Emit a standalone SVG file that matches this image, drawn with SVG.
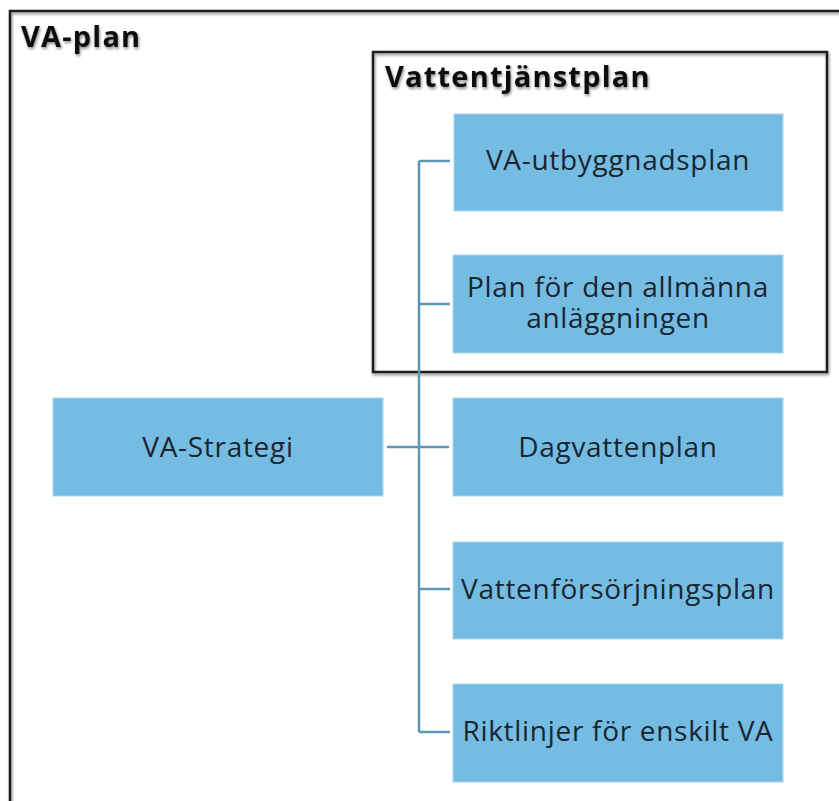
<svg xmlns="http://www.w3.org/2000/svg" width="839" height="801" viewBox="0 0 839 801">
<defs>
<filter id="sh" x="-5%" y="-5%" width="110%" height="120%">
<feGaussianBlur in="SourceAlpha" stdDeviation="1.5"/>
<feOffset dx="1" dy="2" result="b"/>
<feComponentTransfer><feFuncA type="linear" slope="0.45"/></feComponentTransfer>
<feMerge><feMergeNode/><feMergeNode in="SourceGraphic"/></feMerge>
</filter>
</defs>
<style>
.frame{fill:none;stroke:#1a1a1a;stroke-width:2.5}
.title{font-family:"Open Sans",Lato,sans-serif;font-weight:bold;font-size:29px;letter-spacing:1.2px;fill:#111}
.box{fill:#75BCE3;stroke:#a8d6ef;stroke-width:1}
.lbl{font-family:"Open Sans",Lato,sans-serif;font-size:28px;letter-spacing:0.7px;fill:#1a2530;text-anchor:middle}
.con{fill:none;stroke:#5E97B6;stroke-width:2.5}
</style>
<rect width="839" height="801" fill="#fff"/>
<g id="va-plan" filter="url(#sh)">
<rect class="frame" x="10" y="11" width="840" height="800"/>
<text class="title" x="21" y="47">VA-plan</text>
</g>
<g id="vattentjanstplan" filter="url(#sh)">
<rect class="frame" x="373" y="52" width="454" height="320"/>
<text class="title" x="385" y="87">Vattentjänstplan</text>
</g>
<g id="connectors">
<path class="con" d="M387 447H449M419 161V732M419 161H450M419 304H450M419 589H450M419 732H450"/>
</g>
<g id="va-strategi">
<rect class="box" x="53" y="398" width="330" height="98"/>
<text class="lbl" x="218" y="457">VA-Strategi</text>
</g>
<g id="va-utbyggnadsplan">
<rect class="box" x="454" y="114" width="329" height="97"/>
<text class="lbl" x="618" y="170">VA-utbyggnadsplan</text>
</g>
<g id="plan-allmanna">
<rect class="box" x="453" y="255" width="330" height="98"/>
<text class="lbl" x="618" y="297"><tspan x="618">Plan för den allmänna</tspan><tspan x="618" dy="31">anläggningen</tspan></text>
</g>
<g id="dagvattenplan">
<rect class="box" x="453" y="398" width="330" height="98"/>
<text class="lbl" x="618" y="457">Dagvattenplan</text>
</g>
<g id="vattenforsorjningsplan">
<rect class="box" x="453" y="542" width="330" height="97"/>
<text class="lbl" x="618" y="599">Vattenförsörjningsplan</text>
</g>
<g id="riktlinjer">
<rect class="box" x="453" y="684" width="330" height="98"/>
<text class="lbl" x="618" y="741">Riktlinjer för enskilt VA</text>
</g>
</svg>
